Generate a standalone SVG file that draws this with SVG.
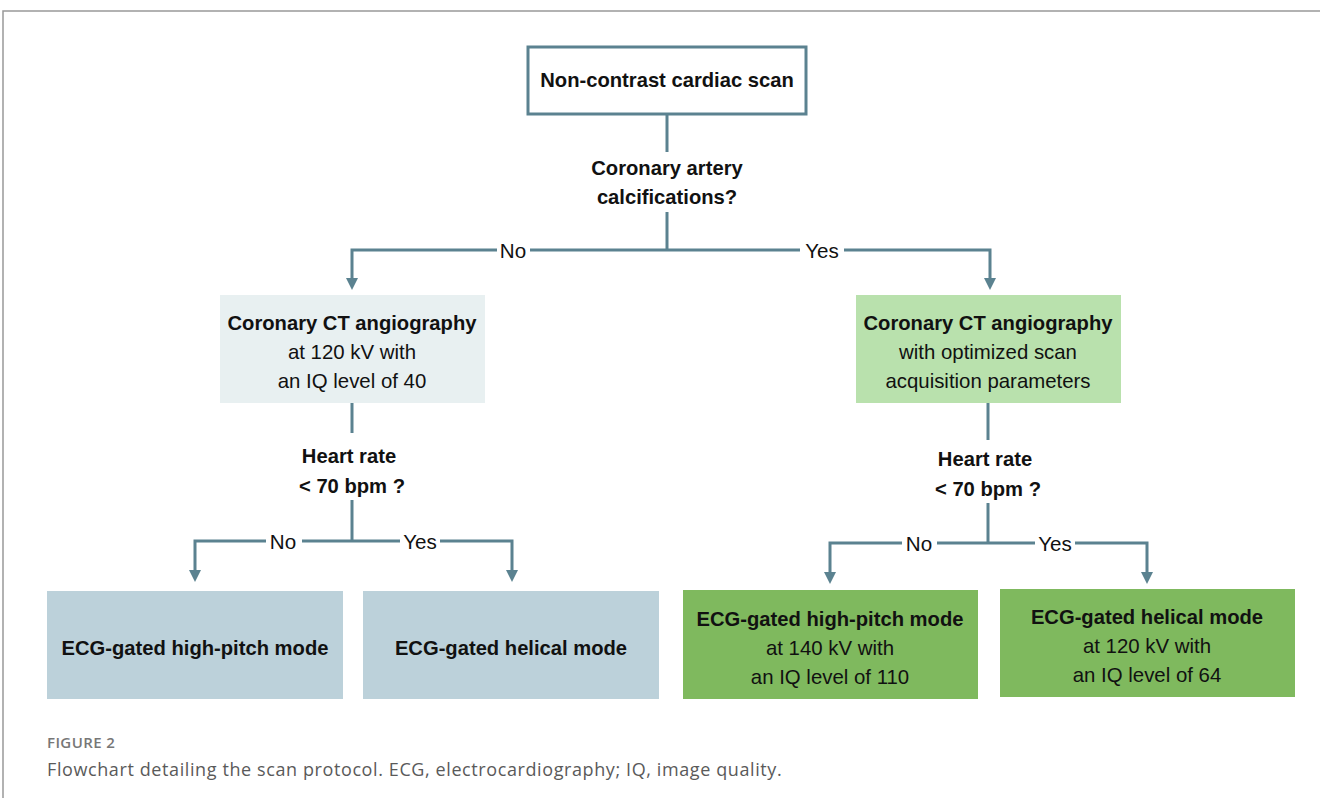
<svg xmlns="http://www.w3.org/2000/svg" width="1320" height="798" viewBox="0 0 1320 798">
<style>
.b{font-family:"Liberation Sans",Arial,sans-serif;font-weight:bold;font-size:20.2px;fill:#111;text-anchor:middle}
.r{font-family:"Liberation Sans",Arial,sans-serif;font-size:20.4px;fill:#111;text-anchor:middle}
.l{font-family:"Liberation Sans",Arial,sans-serif;font-size:20.6px;fill:#111;text-anchor:middle}
.c{fill:none;stroke:#5b8290;stroke-width:3}
.cap{font-family:"Open Sans","Liberation Sans",sans-serif}
</style>
<rect width="1320" height="798" fill="#fff"/>
<path d="M3,798 V11 H1320" fill="none" stroke="#999" stroke-width="1.5"/>

<g id="connectors">
<path class="c" d="M667,114 V152"/>
<path class="c" d="M667,212 V250"/>
<path class="c" d="M352,285 V250 H497"/>
<path class="c" d="M530,250 H800"/>
<path class="c" d="M844,250 H990 V285"/>
<path class="c" d="M352,403 V433"/>
<path class="c" d="M352,500 V541"/>
<path class="c" d="M195,578 V541 H266"/>
<path class="c" d="M302,541 H400"/>
<path class="c" d="M440,541 H512 V578"/>
<path class="c" d="M988,403 V440"/>
<path class="c" d="M988,503 V543"/>
<path class="c" d="M830,580 V543 H902"/>
<path class="c" d="M937,543 H1035"/>
<path class="c" d="M1075,543 H1147 V580"/>
<g fill="#5b8290">
<path d="M346,278 L358,278 L352,290 z"/>
<path d="M984,278 L996,278 L990,290 z"/>
<path d="M189,570 L201,570 L195,582 z"/>
<path d="M506,570 L518,570 L512,582 z"/>
<path d="M824,572 L836,572 L830,584 z"/>
<path d="M1141,572 L1153,572 L1147,584 z"/>
</g>
<text class="l" x="513" y="258">No</text>
<text class="l" x="822" y="258">Yes</text>
<text class="l" x="283" y="549">No</text>
<text class="l" x="420" y="549">Yes</text>
<text class="l" x="919" y="551">No</text>
<text class="l" x="1055" y="551">Yes</text>
</g>

<g id="start">
<rect x="528" y="47" width="278" height="67" fill="#fff" stroke="#5b8290" stroke-width="3"/>
<text class="b" x="667" y="87">Non-contrast cardiac scan</text>
</g>

<g id="q1">
<text class="b" x="667" y="175">Coronary artery</text>
<text class="b" x="667" y="204">calcifications?</text>
</g>

<g id="cta-no">
<rect x="220" y="295" width="265" height="108" fill="#e8f0f1"/>
<text class="b" x="352" y="330">Coronary CT angiography</text>
<text class="r" x="352" y="359">at 120 kV with</text>
<text class="r" x="352" y="388">an IQ level of 40</text>
</g>

<g id="cta-yes">
<rect x="856" y="295" width="265" height="108" fill="#b9e1ad"/>
<text class="b" x="988" y="330">Coronary CT angiography</text>
<text class="r" x="988" y="359">with optimized scan</text>
<text class="r" x="988" y="388">acquisition parameters</text>
</g>

<g id="hr-left">
<text class="b" x="349" y="463">Heart rate</text>
<text class="b" x="352" y="493">&lt; 70 bpm ?</text>
</g>

<g id="hr-right">
<text class="b" x="985" y="466">Heart rate</text>
<text class="b" x="988" y="496">&lt; 70 bpm ?</text>
</g>

<g id="hp-no">
<rect x="47" y="591" width="296" height="108" fill="#bcd1da"/>
<text class="b" x="195" y="655">ECG-gated high-pitch mode</text>
</g>

<g id="hel-no">
<rect x="363" y="591" width="296" height="108" fill="#bcd1da"/>
<text class="b" x="511" y="655">ECG-gated helical mode</text>
</g>

<g id="hp-yes">
<rect x="683" y="590" width="295" height="109" fill="#7fb95e"/>
<text class="b" x="830" y="626">ECG-gated high-pitch mode</text>
<text class="r" x="830" y="655">at 140 kV with</text>
<text class="r" x="830" y="684">an IQ level of 110</text>
</g>

<g id="hel-yes">
<rect x="1000" y="589" width="295" height="108" fill="#7fb95e"/>
<text class="b" x="1147" y="624">ECG-gated helical mode</text>
<text class="r" x="1147" y="653">at 120 kV with</text>
<text class="r" x="1147" y="682">an IQ level of 64</text>
</g>

<g id="caption">
<text class="cap" x="47" y="748" font-size="15" font-weight="600" letter-spacing="0.4" fill="#777">FIGURE 2</text>
<text class="cap" x="47" y="776" font-size="18" letter-spacing="0.6" fill="#5a5a5a">Flowchart detailing the scan protocol. ECG, electrocardiography; IQ, image quality.</text>
</g>
</svg>
